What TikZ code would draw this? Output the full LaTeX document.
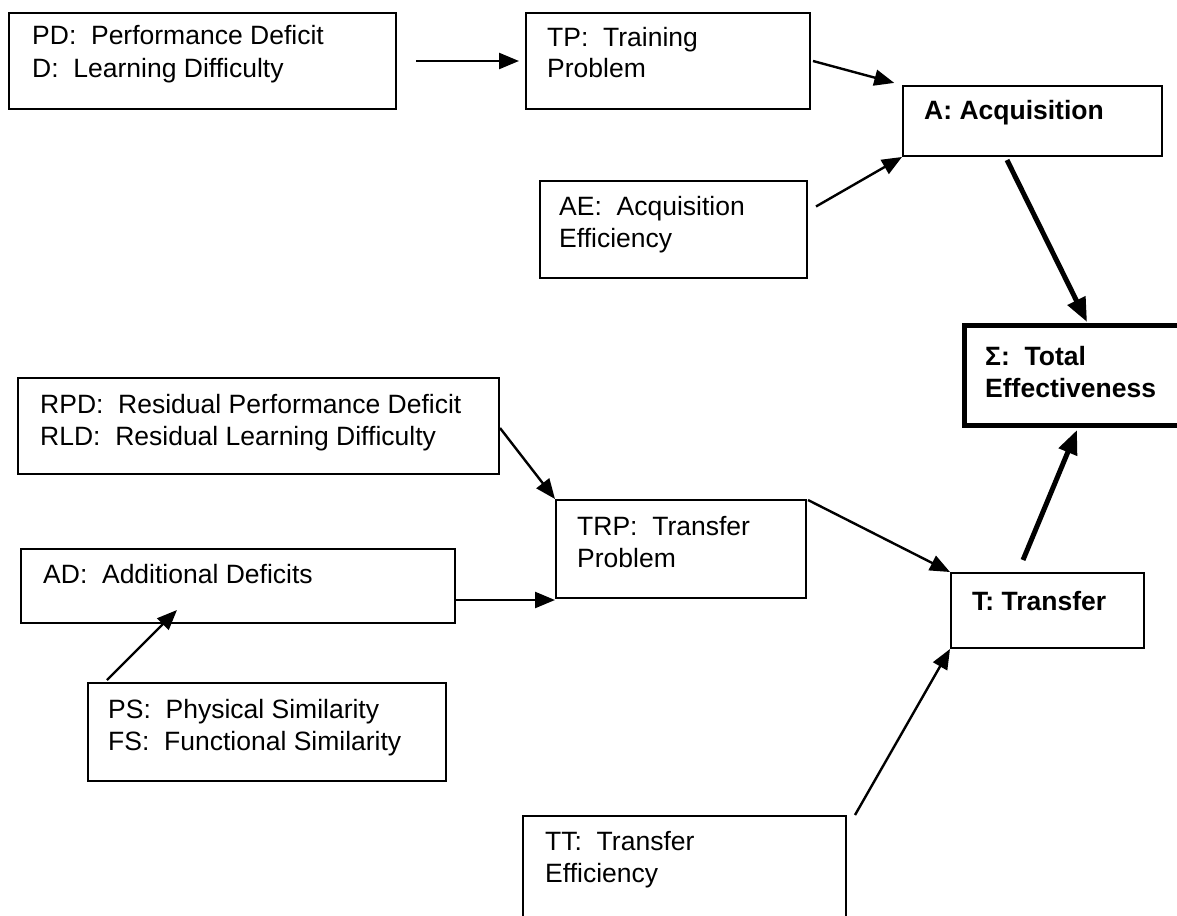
\documentclass[tikz,border=0pt]{standalone}
\usepackage{fontspec}
\setmainfont{Liberation Sans}
\usetikzlibrary{arrows.meta,calc}
\begin{document}
\begin{tikzpicture}[x=1pt,y=-1pt,
  box/.style={draw, line width=2pt, inner sep=0pt, anchor=north west},
  txt/.style={anchor=base west, inner sep=0pt, font=\fontsize{26.5}{33}\selectfont},
  btxt/.style={anchor=base west, inner sep=0pt, font=\fontsize{26.5}{33}\selectfont\bfseries},
  arr/.style={line width=2.4pt, -{Triangle[length=20pt,width=16pt]}},
  boldarr/.style={line width=5pt, -{Triangle[length=24pt,width=19pt]}}]
\useasboundingbox (0,0) rectangle (1177,915);
\fill[white] (0,0) rectangle (1177,915);
\clip (0,0) rectangle (1177,915);

% boxes
\node[box, minimum width=387pt, minimum height=96pt] (pd) at (8,12) {};
\node[box, minimum width=284pt, minimum height=96pt] (tp) at (525,12) {};
\node[box, minimum width=259pt, minimum height=70pt] (a) at (902,85) {};
\node[box, minimum width=267pt, minimum height=97pt] (ae) at (539,180) {};
\node[box, line width=5pt, minimum width=230pt, minimum height=100pt] (sig) at (962,323) {};
\node[box, minimum width=481pt, minimum height=96pt] (rpd) at (17,377) {};
\node[box, minimum width=250pt, minimum height=98pt] (trp) at (555,499) {};
\node[box, minimum width=434pt, minimum height=74pt] (ad) at (20,548) {};
\node[box, minimum width=193pt, minimum height=75pt] (t) at (950,572) {};
\node[box, minimum width=358pt, minimum height=98pt] (ps) at (87,682) {};
\node[box, minimum width=323pt, minimum height=120pt] (tt) at (522,815) {};

% texts
\node[txt] (pd1) at (32,45) {PD:\ \ Performance Deficit};
\node[txt] (pd2) at (32,78) {D:\ \ Learning Difficulty};
\node[txt] (tp1) at (547,47) {TP:\ \ Training};
\node[txt] (tp2) at (547,78) {Problem};
\node[btxt] (a1) at (924,120) {A: Acquisition};
\node[txt] (ae1) at (559,215) {AE:\ \ Acquisition};
\node[txt] (ae2) at (559,247) {Efficiency};
\node[btxt] (sig1) at (985,365) {Σ:\ \ Total};
\node[btxt] (sig2) at (985,397) {Effectiveness};
\node[txt] (rpd1) at (40,413) {RPD:\ \ Residual Performance Deficit};
\node[txt] (rpd2) at (40,445) {RLD:\ \ Residual Learning Difficulty};
\node[txt] (trp1) at (577,535) {TRP:\ \ Transfer};
\node[txt] (trp2) at (577,567) {Problem};
\node[txt] (ad1) at (43,583) {AD:\ \ Additional Deficits};
\node[btxt] (t1) at (972,610) {T: Transfer};
\node[txt] (ps1) at (108,718) {PS:\ \ Physical Similarity};
\node[txt] (ps2) at (108,750) {FS:\ \ Functional Similarity};
\node[txt] (tt1) at (545,850) {TT:\ \ Transfer};
\node[txt] (tt2) at (545,882) {Efficiency};

% connectors
\draw[arr, shorten <=19pt, shorten >=6pt] (pd.east) -- (tp.west);
\draw[arr, shorten >=8pt] ($(tp.east)+(2,0)$) -- (a.north west);
\draw[arr] ($(ae.east)+(8,-23)$) -- (a.south west);
\draw[boldarr] ($(a.south west)+(105,3)$) -- ($(sig.north west)+(125,-1)$);
\draw[boldarr] ($(t.north west)+(73,-12)$) -- ($(sig.south west)+(115,2)$);
\draw[arr] ($(rpd.east)+(0,2)$) -- (trp.north west);
\draw[arr] ($(ad.south east)+(0,-24)$) -- ($(trp.south west)+(0,1)$);
\draw[arr] ($(ps.north west)+(20,-2)$) -- ($(ad.south west)+(157,-14)$);
\draw[arr] ($(trp.north east)+(1,1)$) -- (t.north west);
\draw[arr] ($(tt.north east)+(8,0)$) -- (t.south west);
\end{tikzpicture}
\end{document}
